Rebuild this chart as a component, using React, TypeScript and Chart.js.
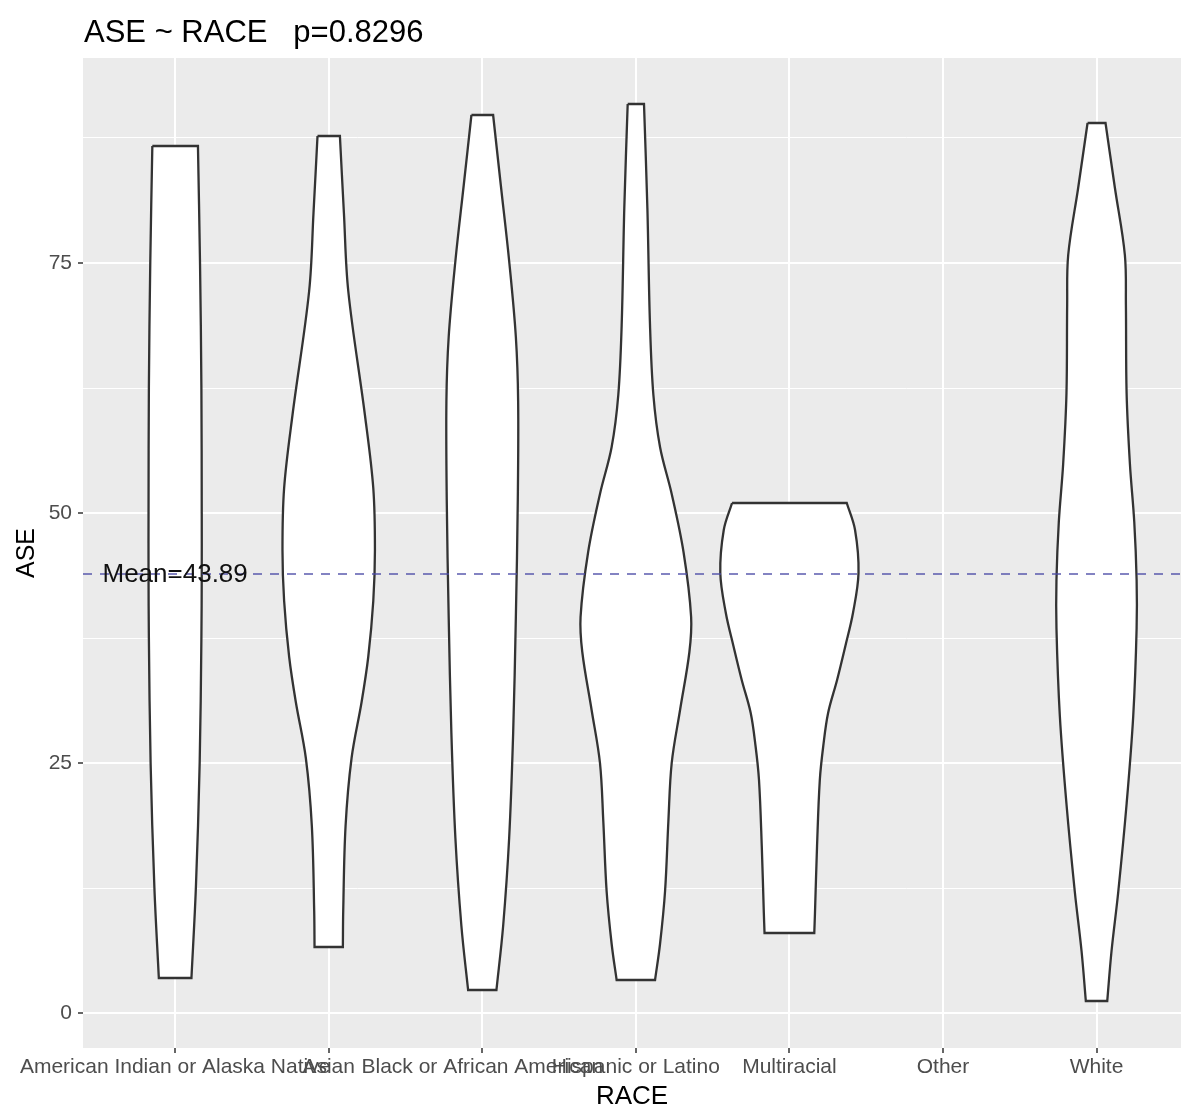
import React, { useEffect, useRef } from 'react';
import { Chart, registerables } from 'chart.js';

Chart.register(...registerables);

// ---- data -------------------------------------------------------------
const categories = [
  'American Indian or Alaska Native',
  'Asian',
  'Black or African American',
  'Hispanic or Latino',
  'Multiracial',
  'Other',
  'White',
];

// Violin outlines: ASE levels (top to bottom) and scaled density (1 = widest group)
const americanIndianAse = [86.7, 75, 62.5, 50, 44, 37.5, 25, 12.5, 3.5];
const americanIndianDensity = [0.33, 0.36, 0.38, 0.385, 0.385, 0.38, 0.355, 0.3, 0.236];

const asianAse = [87.7, 80, 72.2, 59.8, 52.5, 46.3, 41.2, 35.6, 31.1, 25.5, 18.7, 10.2, 6.6];
const asianDensity = [0.162, 0.22, 0.283, 0.524, 0.645, 0.669, 0.645, 0.572, 0.476, 0.331, 0.244, 0.21, 0.205];

const blackAse = [89.8, 82.8, 75.2, 67.6, 61.2, 51.3, 39.6, 28.0, 17.5, 8.7, 2.3];
const blackDensity = [0.157, 0.268, 0.389, 0.486, 0.519, 0.514, 0.486, 0.447, 0.389, 0.302, 0.205];

const hispanicAse = [90.9, 80.5, 68.8, 61.8, 56.6, 51.9, 46.1, 39.6, 36.1, 30.3, 25.0, 19.2, 12.2, 6.9, 3.3];
const hispanicDensity = [0.118, 0.167, 0.205, 0.254, 0.35, 0.519, 0.69, 0.8, 0.775, 0.64, 0.519, 0.471, 0.423, 0.35, 0.278];

const multiracialAse = [51, 48.3, 44, 40, 36.7, 33.3, 30, 26.7, 23.3, 16.7, 10, 8];
const multiracialDensity = [0.83, 0.95, 1.0, 0.92, 0.81, 0.69, 0.56, 0.49, 0.44, 0.4, 0.37, 0.36];

const whiteAse = [89.0, 82.5, 75.8, 70.8, 62.0, 54.9, 49.1, 43.3, 38.5, 29.7, 20.9, 12.1, 6.2, 1.2];
const whiteDensity = [0.13, 0.266, 0.41, 0.425, 0.435, 0.483, 0.546, 0.58, 0.58, 0.531, 0.435, 0.314, 0.217, 0.155];

const yMajorTicks = [0, 25, 50, 75];
const yMinorTicks = [12.5, 37.5, 62.5, 87.5];

const meanAse = 43.89;
const pValue = '0.8296';

// ---- geometry helpers --------------------------------------------------
const VIOLIN_WIDTH = 0.9;
const X_MIN = 0.4;
const X_MAX = 7.55;
const Y_MIN = -3.5;
const Y_MAX = 95.5;

type Pt = { x: number; y: number };

// Closed outline: down the left side, across the bottom, up the right side,
// across the top. Corner points are repeated so the flat ends stay straight
// under bezier smoothing.
function violinOutline(pos: number, ase: number[], density: number[]): Pt[] {
  const half = density.map((d) => (d * VIOLIN_WIDTH) / 2);
  const n = ase.length;
  const pts: Pt[] = [];
  for (let i = 0; i < n; i++) pts.push({ x: pos - half[i], y: ase[i] });
  pts.push({ x: pos - half[n - 1], y: ase[n - 1] });
  pts.push({ x: pos + half[n - 1], y: ase[n - 1] });
  pts.push({ x: pos + half[n - 1], y: ase[n - 1] });
  for (let i = n - 2; i >= 0; i--) pts.push({ x: pos + half[i], y: ase[i] });
  pts.push({ x: pos + half[0], y: ase[0] });
  pts.push({ x: pos - half[0], y: ase[0] });
  return pts;
}

const violins = [
  { cat: 'American Indian or Alaska Native', ase: americanIndianAse, density: americanIndianDensity },
  { cat: 'Asian', ase: asianAse, density: asianDensity },
  { cat: 'Black or African American', ase: blackAse, density: blackDensity },
  { cat: 'Hispanic or Latino', ase: hispanicAse, density: hispanicDensity },
  { cat: 'Multiracial', ase: multiracialAse, density: multiracialDensity },
  { cat: 'White', ase: whiteAse, density: whiteDensity },
];

const FONT = "'Liberation Sans', Arial, Helvetica, sans-serif";

// ---- plugins ----------------------------------------------------------
const panelBackground = {
  id: 'panelBackground',
  beforeDraw(chart: any) {
    const { ctx, chartArea } = chart;
    ctx.save();
    ctx.fillStyle = '#EBEBEB';
    ctx.fillRect(chartArea.left, chartArea.top, chartArea.right - chartArea.left, chartArea.bottom - chartArea.top);
    ctx.restore();
  },
};

const annotations = {
  id: 'annotations',
  afterDatasetsDraw(chart: any) {
    const { ctx, scales } = chart;
    ctx.save();
    // mean label, centred on the first group
    ctx.font = `26px ${FONT}`;
    ctx.fillStyle = '#111111';
    ctx.textAlign = 'center';
    ctx.textBaseline = 'middle';
    ctx.fillText(`Mean=${meanAse}`, scales.x.getPixelForValue(1), scales.y.getPixelForValue(meanAse) + 1);
    ctx.restore();
  },
  afterDraw(chart: any) {
    const { ctx, chartArea } = chart;
    ctx.save();
    ctx.font = `31px ${FONT}`;
    ctx.fillStyle = '#000000';
    ctx.textAlign = 'left';
    ctx.textBaseline = 'alphabetic';
    ctx.fillText(`ASE ~ RACE   p=${pValue}`, chartArea.left + 1, 42);
    ctx.restore();
  },
};

// ---- component --------------------------------------------------------
export default function App() {
  const canvasRef = useRef<HTMLCanvasElement | null>(null);

  useEffect(() => {
    if (!canvasRef.current) return;
    Chart.defaults.font.family = FONT;

    const datasets: any[] = [
      {
        label: 'mean',
        data: [
          { x: X_MIN, y: meanAse },
          { x: X_MAX, y: meanAse },
        ],
        borderColor: 'rgba(72, 72, 165, 0.9)',
        borderWidth: 1.5,
        borderDash: [9, 8],
        pointRadius: 0,
        fill: false,
        tension: 0,
        order: 0,
      },
      ...violins.map((v) => ({
        label: v.cat,
        data: violinOutline(categories.indexOf(v.cat) + 1, v.ase, v.density),
        borderColor: '#333333',
        borderWidth: 2.3,
        backgroundColor: '#ffffff',
        fill: 'shape',
        pointRadius: 0,
        tension: 0.35,
        order: 1,
      })),
    ];

    const chart = new Chart(canvasRef.current, {
      type: 'line',
      data: { datasets },
      plugins: [panelBackground, annotations],
      options: {
        responsive: false,
        animation: false,
        devicePixelRatio: 1,
        layout: { padding: { top: 58, left: 0, right: 0, bottom: 0 } },
        plugins: {
          legend: { display: false },
          tooltip: { enabled: false },
          title: { display: false },
        },
        scales: {
          x: {
            type: 'linear',
            min: X_MIN,
            max: X_MAX,
            afterBuildTicks: (s: any) => {
              s.ticks = categories.map((_, i) => ({ value: i + 1 }));
            },
            afterFit: (s: any) => {
              s.height = 61;
              s.paddingLeft = 0;
              s.paddingRight = 0;
            },
            ticks: {
              autoSkip: false,
              maxRotation: 0,
              minRotation: 0,
              padding: 2,
              color: '#4D4D4D',
              font: { size: 21 },
              callback: (v: any) => categories[Math.round(Number(v)) - 1] ?? '',
            },
            grid: {
              color: '#FFFFFF',
              lineWidth: 2,
              drawTicks: true,
              tickLength: 5,
              tickColor: '#333333',
              tickWidth: 1.5,
            },
            border: { display: false },
            title: {
              display: true,
              text: 'RACE',
              color: '#000000',
              font: { size: 26 },
              padding: { top: 0, bottom: -3 },
            },
          },
          y: {
            type: 'linear',
            min: Y_MIN,
            max: Y_MAX,
            afterBuildTicks: (s: any) => {
              s.ticks = [...yMajorTicks, ...yMinorTicks].sort((a, b) => a - b).map((value) => ({ value }));
            },
            afterFit: (s: any) => {
              s.width = 83;
              s.paddingTop = 0;
              s.paddingBottom = 0;
            },
            ticks: {
              padding: 6,
              color: '#4D4D4D',
              font: { size: 21 },
              callback: (v: any) => (yMajorTicks.includes(Number(v)) ? String(v) : ''),
            },
            grid: {
              color: '#FFFFFF',
              lineWidth: (c: any) => (c.tick && yMajorTicks.includes(c.tick.value) ? 2 : 1),
              drawTicks: true,
              tickLength: 5,
              tickColor: (c: any) => (c.tick && yMajorTicks.includes(c.tick.value) ? '#333333' : 'rgba(0,0,0,0)'),
              tickWidth: 1.5,
            },
            border: { display: false },
            title: {
              display: true,
              text: 'ASE',
              color: '#000000',
              font: { size: 25 },
              padding: { top: 12, bottom: 0 },
            },
          },
        },
      } as any,
    });

    return () => chart.destroy();
  }, []);

  return (
    <div style={{ position: 'fixed', left: 0, top: 0, width: 1181, height: 1109, background: '#ffffff' }}>
      <canvas ref={canvasRef} width={1181} height={1109} style={{ display: 'block' }} />
    </div>
  );
}
